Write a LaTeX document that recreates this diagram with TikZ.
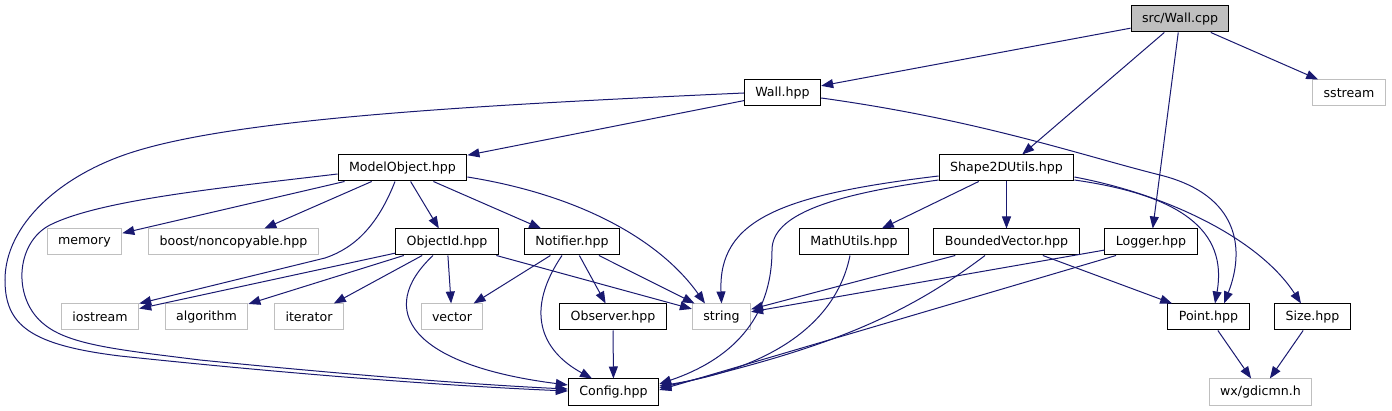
\documentclass[tikz,border=0pt]{standalone}
\usepackage{fontspec}
\setmainfont{DejaVu Sans}
\usetikzlibrary{arrows.meta}
\definecolor{edgeblue}{HTML}{191970}
\definecolor{extgray}{HTML}{BFBFBF}

\begin{document}
\begin{tikzpicture}[x=1pt,y=-1pt,
        font=\fontsize{12.6}{15}\selectfont,
        hdr/.style={draw=black,line width=1pt,fill=white,minimum height=26pt,inner xsep=11pt,inner ysep=0pt},
        sys/.style={hdr,draw=extgray},
        srcfile/.style={hdr,fill=extgray},
        dep/.style={-{Triangle[length=12pt,width=9pt]},color=edgeblue,line width=1pt}]
        \useasboundingbox (0,0) rectangle (1392,411);
        \node[srcfile] (wallcpp) at (1180,19) {src/Wall.cpp};
        \node[hdr] (wallhpp) at (782.5,93) {Wall.hpp};
        \node[sys] (sstream) at (1349,93) {sstream};
        \node[hdr] (modelobject) at (402.5,168) {ModelObject.hpp};
        \node[hdr] (shape2d) at (1006.5,168) {Shape2DUtils.hpp};
        \node[sys] (memory) at (84.5,242) {memory};
        \node[sys] (noncopyable) at (233.5,242) {boost/noncopyable.hpp};
        \node[hdr] (objectid) at (447,242) {ObjectId.hpp};
        \node[hdr] (notifier) at (572,242) {Notifier.hpp};
        \node[hdr] (mathutils) at (854,242) {MathUtils.hpp};
        \node[hdr] (bounded) at (1006.5,242) {BoundedVector.hpp};
        \node[hdr] (logger) at (1151,242) {Logger.hpp};
        \node[sys] (iostream) at (100,317) {iostream};
        \node[sys] (algorithm) at (206.5,317) {algorithm};
        \node[sys] (iterator) at (309,317) {iterator};
        \node[sys] (vector) at (452,317) {vector};
        \node[hdr] (observer) at (613,317) {Observer.hpp};
        \node[sys] (string) at (721.5,317) {string};
        \node[hdr] (point) at (1208.5,317) {Point.hpp};
        \node[hdr] (size) at (1312.5,317) {Size.hpp};
        \node[hdr] (config) at (613.5,392) {Config.hpp};
        \node[sys] (gdicmn) at (1260.5,392) {wx/gdicmn.h};
        % src/Wall.cpp
        \draw[dep] (wallcpp) -- (wallhpp);
        \draw[dep] (wallcpp) -- (shape2d);
        \draw[dep] (wallcpp) -- (logger);
        \draw[dep] (wallcpp) -- (sstream);
        % Wall.hpp
        \draw[dep] (wallhpp) -- (modelobject);
        \draw[dep] (wallhpp.west) .. controls (480,105) and (240,118) .. (133,152) .. controls (60,175) and (5,225) .. (5,280) .. controls (5,325) and (30,345) .. (120,356) .. controls (300,375) and (450,386) .. ([yshift=1pt]config.west);
        \draw[dep] ([yshift=-5pt]wallhpp.east) .. controls (980,120) and (1080,155) .. (1160,175) .. controls (1240,195) and (1245,250) .. ([xshift=15.5pt]point.north);
        % ModelObject.hpp
        \draw[dep] (modelobject) -- (memory);
        \draw[dep] (modelobject) -- (noncopyable);
        \draw[dep] (modelobject) -- (objectid);
        \draw[dep] (modelobject) -- (notifier);
        \draw[dep] ([xshift=-7.5pt]modelobject.south) .. controls (378,225) and (355,248) .. (325,258) -- (iostream.north east);
        \draw[dep] ([yshift=-6pt]modelobject.west) .. controls (220,188) and (100,200) .. (50,225) .. controls (15,243) and (12,300) .. (45,325) .. controls (70,345) and (120,350) .. (200,360) .. controls (350,375) and (480,385) .. ([yshift=3pt]config.west);
        \draw[dep] ([yshift=-9pt]modelobject.east) .. controls (580,195) and (660,240) .. ([xshift=-16.5pt]string.north);
        % Shape2DUtils.hpp
        \draw[dep] ([yshift=-8pt]shape2d.west) .. controls (780,195) and (718,220) .. (string.north);
        \draw[dep] ([yshift=-12pt]shape2d.west) .. controls (830,195) and (772,215) .. (772,250) .. controls (772,320) and (730,360) .. ([yshift=8pt]config.east);
        \draw[dep] (shape2d) -- (mathutils);
        \draw[dep] (shape2d) -- (bounded);
        \draw[dep] ([yshift=-12pt]shape2d.east) .. controls (1180,195) and (1228,230) .. ([xshift=6.5pt]point.north);
        \draw[dep] ([yshift=-9pt]shape2d.east) .. controls (1170,195) and (1260,240) .. ([xshift=-11.5pt]size.north);
        % ObjectId.hpp
        \draw[dep] (objectid) -- (iostream);
        \draw[dep] (objectid) -- (algorithm);
        \draw[dep] (objectid) -- (iterator);
        \draw[dep] (objectid) -- (vector);
        \draw[dep] ([xshift=-14pt]objectid.south) .. controls (375,310) and (410,365) .. ([yshift=7pt]config.west);
        \draw[dep] (objectid) -- (string);
        % Notifier.hpp
        \draw[dep] (notifier) -- (vector);
        \draw[dep] ([xshift=-10pt]notifier.south) .. controls (525,310) and (540,350) .. ([xshift=-21.5pt]config.north);
        \draw[dep] (notifier) -- (observer);
        \draw[dep] (notifier) -- (string);
        \draw[dep] (observer) -- (config);
        % MathUtils, BoundedVector, Logger
        \draw[dep] ([xshift=-4pt]mathutils.south) .. controls (835,330) and (760,370) .. ([yshift=6pt]config.east);
        \draw[dep] (bounded) -- (string);
        \draw[dep] ([xshift=-21.5pt]bounded.south) .. controls (900,320) and (820,350) .. ([yshift=4pt]config.east);
        \draw[dep] (bounded) -- (point);
        \draw[dep] (logger) -- (string);
        \draw[dep] ([xshift=-35pt]logger.south) -- ([yshift=2pt]config.east);
        % Point, Size
        \draw[dep] (point) -- (gdicmn);
        \draw[dep] (size) -- (gdicmn);
\end{tikzpicture}
\end{document}
